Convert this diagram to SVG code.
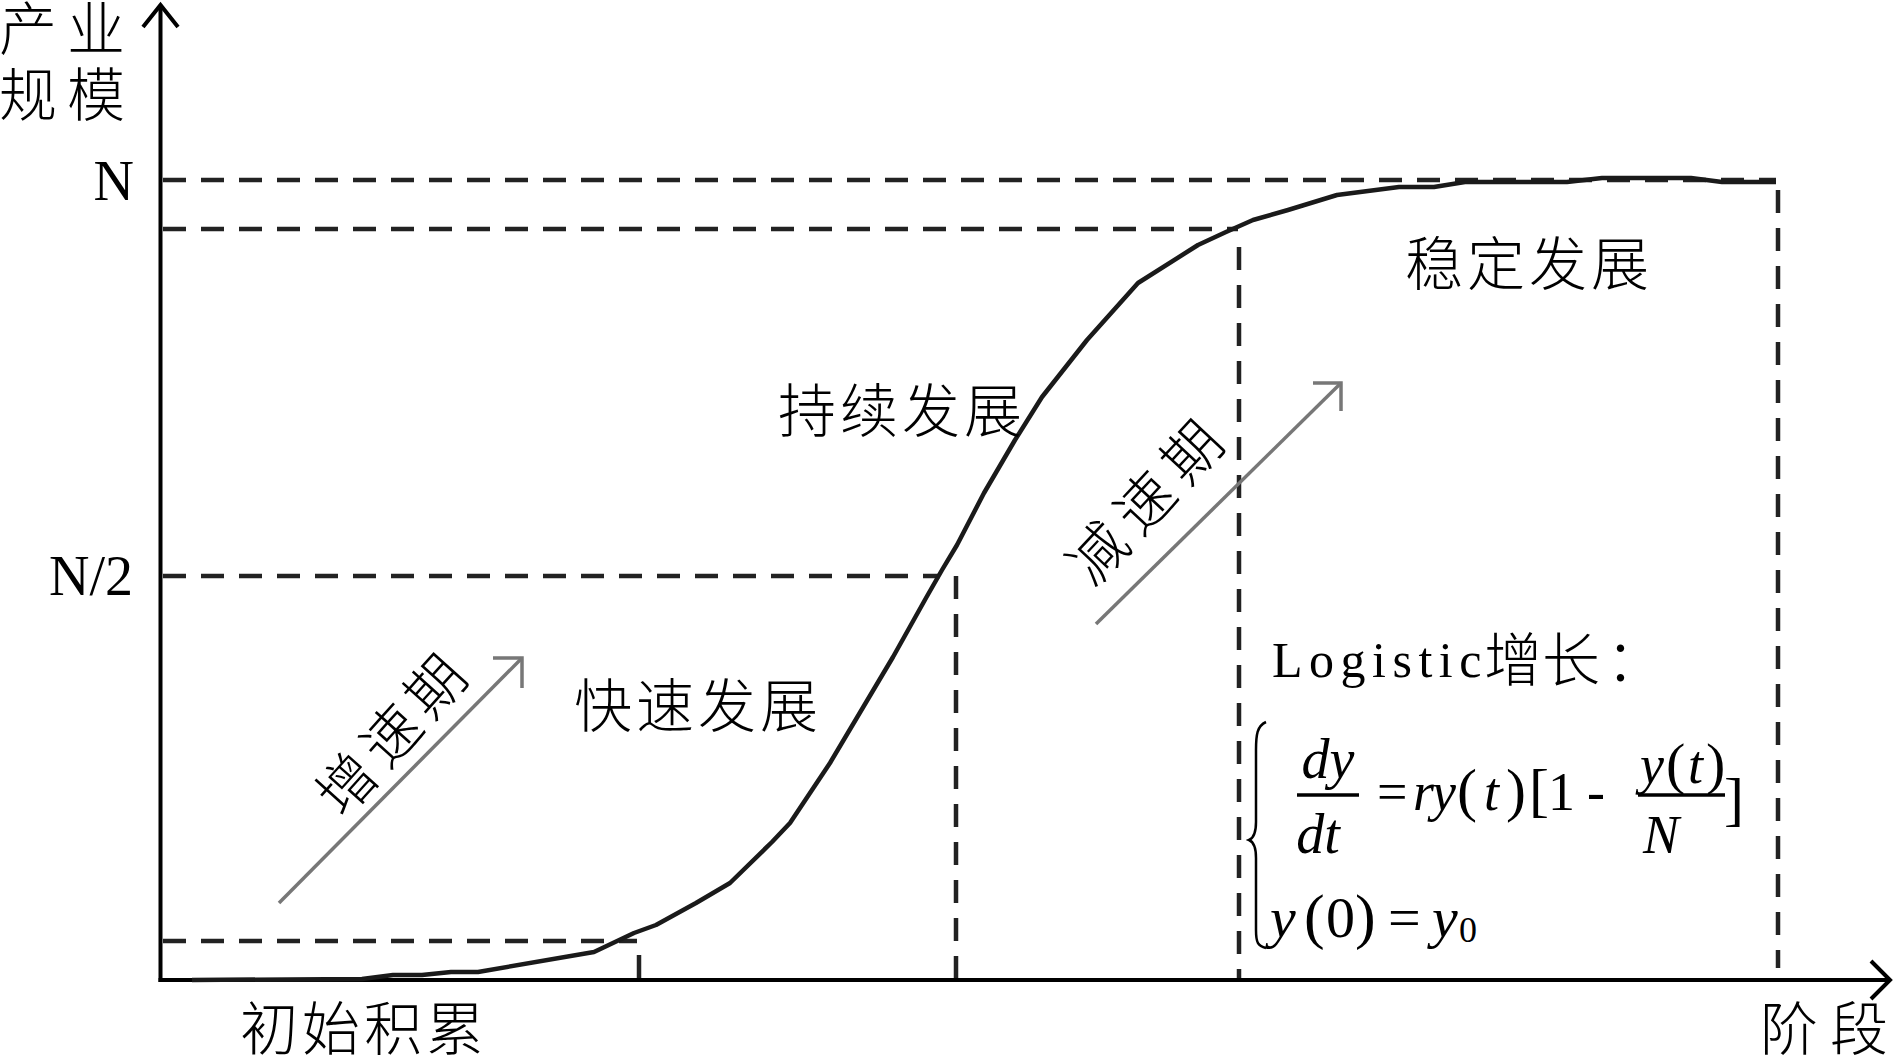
<svg xmlns="http://www.w3.org/2000/svg" width="1893" height="1062" viewBox="0 0 1893 1062">
<style>
.axis{stroke:#000;stroke-width:4;fill:none}
.dash{stroke:#222;stroke-width:4.5;stroke-dasharray:23 15;fill:none}
.curve{stroke:#1a1a1a;stroke-width:4.5;fill:none;stroke-linejoin:round}
.garrow{stroke:#777;stroke-width:3.5;fill:none}
.cjk{font-family:"Noto Sans CJK SC","Noto Sans CJK JP",sans-serif;font-size:58px;font-weight:300;fill:#000}
.tm{font-family:"Liberation Serif","Times New Roman",serif;fill:#000}
.it{font-style:italic}
</style>
<rect width="1893" height="1062" fill="#fff"/>
<g id="connectors">
  <g id="guides">
    <line class="dash" x1="163" y1="180" x2="1776" y2="180"/>
    <line class="dash" x1="163" y1="229" x2="1238" y2="229"/>
    <line class="dash" x1="163" y1="576" x2="940" y2="576"/>
    <line class="dash" x1="163" y1="941" x2="637" y2="941"/>
    <line class="dash" x1="1778" y1="190" x2="1778" y2="968"/>
    <line class="dash" x1="1239" y1="247" x2="1239" y2="980"/>
    <line class="dash" x1="956" y1="576" x2="956" y2="980"/>
    <line class="axis" style="stroke:#222;stroke-width:4.5" x1="639" y1="955" x2="639" y2="980"/>
  </g>
  <g id="axes">
    <line class="axis" x1="160.5" y1="5" x2="160.5" y2="982"/>
    <line class="axis" x1="158.5" y1="980" x2="1889" y2="980"/>
    <polyline class="axis" points="143,27 160.5,5 178,27"/>
    <polyline class="axis" points="1871,961 1890,980 1871,999"/>
  </g>
  <g id="arrows">
    <line class="garrow" x1="279" y1="903" x2="522" y2="658"/>
    <polyline class="garrow" points="493,658 522,658 522,688"/>
    <line class="garrow" x1="1096" y1="624" x2="1341" y2="383"/>
    <polyline class="garrow" points="1313,383 1341,383 1341,411"/>
  </g>
</g>
<g id="curve">
  <polyline class="curve" points="192,980 362,979 393,975 422,975 451,972 478,972 594,952 634,933 656,925 696,903 730,883 772,842 790,823 830,763 893,657 926,598 942,570 957,545 970,520 984,493 1015,440 1042,397 1087,340 1138,283 1198,245 1226,232 1253,220 1288,210 1337,195 1399,187 1434,187 1465,182 1567,182 1602,178 1691,178 1722,182 1776,182"/>
</g>
<g id="axis-labels">
  <text class="cjk" x="-1" y="50" font-size="55" letter-spacing="10">产业</text>
  <text class="cjk" x="-1" y="116" font-size="55" letter-spacing="10">规模</text>
  <text class="tm" x="134" y="200" font-size="56" text-anchor="end">N</text>
  <text class="tm" x="133" y="595" font-size="56" text-anchor="end">N/2</text>
  <text class="cjk" x="240" y="1050" letter-spacing="4">初始积累</text>
  <text class="cjk" x="1760" y="1050" letter-spacing="12">阶段</text>
</g>
<g id="stage-labels">
  <text class="cjk" x="574" y="727" letter-spacing="4">快速发展</text>
  <text class="cjk" x="778" y="432" letter-spacing="4">持续发展</text>
  <text class="cjk" x="1405" y="285" letter-spacing="4">稳定发展</text>
  <g transform="translate(392,736) rotate(-48)">
    <text class="cjk" x="4" y="20" text-anchor="middle" letter-spacing="8">增速期</text>
  </g>
  <g transform="translate(1146,503) rotate(-47)">
    <text class="cjk" x="5" y="20" text-anchor="middle" letter-spacing="11">减速期</text>
  </g>
</g>
<g id="formula">
  <text class="tm" x="1272" y="677" font-size="50" letter-spacing="6.5">Logistic</text>
  <text class="cjk" x="1484" y="681" font-size="56">增长</text>
  <text class="cjk" x="1606" y="681" font-size="56">：</text>
  <path d="M1266,722 C1257,726 1256,735 1256,750 L1256,822 C1256,832 1254,838 1249,840 C1254,842 1256,848 1256,858 L1256,930 C1256,943 1258,946 1266,948" fill="none" stroke="#000" stroke-width="2.5"/>
  <text class="tm it" x="1328" y="778" font-size="56" text-anchor="middle">dy</text>
  <line x1="1297" y1="795" x2="1359" y2="795" stroke="#000" stroke-width="3.5"/>
  <text class="tm it" x="1318" y="853" font-size="56" text-anchor="middle">dt</text>
  <text class="tm" font-size="54" y="810"><tspan x="1377">=</tspan><tspan x="1413" class="it">r</tspan><tspan x="1432" class="it">y</tspan><tspan x="1457" font-size="60">(</tspan><tspan x="1484" class="it">t</tspan><tspan x="1506" font-size="60">)</tspan><tspan x="1529" font-size="60">[</tspan><tspan x="1548">1</tspan><tspan x="1587">-</tspan></text>
  <text class="tm" font-size="54" y="783"><tspan x="1640" class="it">y</tspan><tspan x="1666" font-size="58">(</tspan><tspan x="1688" class="it">t</tspan><tspan x="1706" font-size="58">)</tspan></text>
  <line x1="1638" y1="795" x2="1725" y2="795" stroke="#000" stroke-width="3.5"/>
  <text class="tm it" x="1643" y="853" font-size="54">N</text>
  <text class="tm" x="1724" y="819" font-size="60">]</text>
  <text class="tm" font-size="58" y="937"><tspan x="1270" class="it">y</tspan><tspan x="1304" font-size="62">(</tspan><tspan x="1326">0</tspan><tspan x="1355" font-size="62">)</tspan><tspan x="1388">=</tspan><tspan x="1432" class="it">y</tspan></text>
  <text class="tm" x="1459" y="942" font-size="36">0</text>
</g>
</svg>
